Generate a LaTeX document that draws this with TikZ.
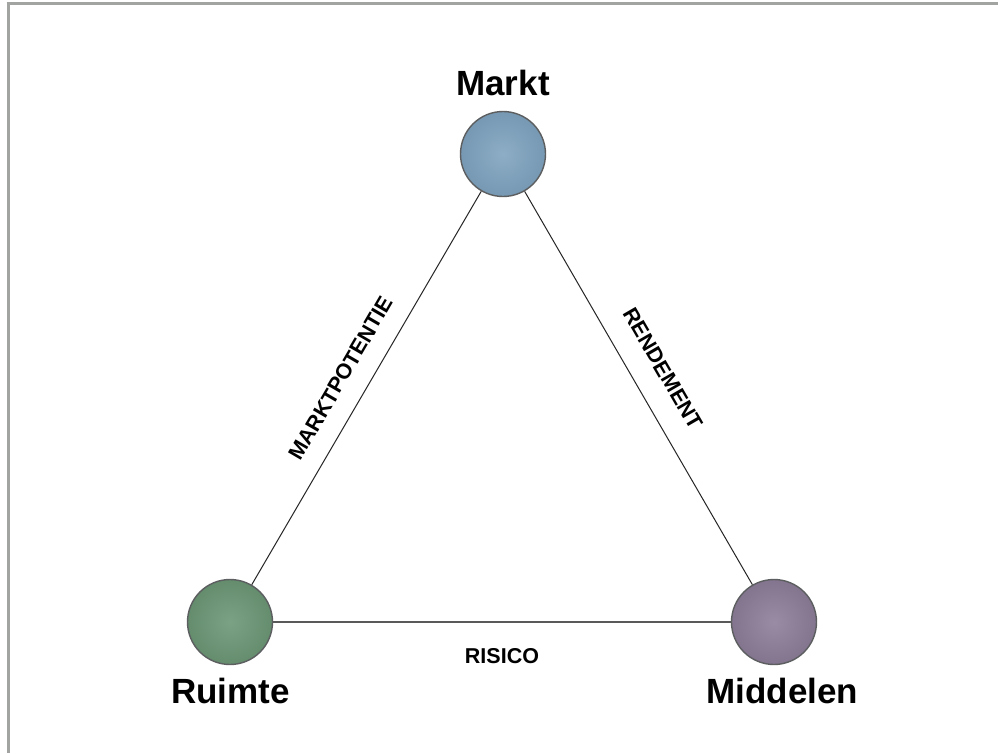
\documentclass[tikz,border=0pt]{standalone}
\usepackage{fontspec}
\setmainfont{Liberation Sans}
\definecolor{frameg}{HTML}{A2A4A2}
\definecolor{ballblue}{HTML}{7EA2BE}
\definecolor{ballgreen}{HTML}{6A9574}
\definecolor{ballpurple}{HTML}{8C7C98}
\definecolor{balledge}{HTML}{5C5E60}
\tikzset{
  ball/.style={circle, minimum size=85pt, inner sep=0pt, draw=balledge, line width=1.4pt, shading=radial},
  bigtext/.style={font=\fontsize{35}{40}\selectfont\bfseries, inner sep=0pt, anchor=base},
  edgetext/.style={font=\fontsize{21.5}{24}\selectfont\bfseries, inner sep=0pt},
  edgeline/.style={line width=1pt, draw=black!85}
}
\begin{document}
\begin{tikzpicture}[x=1pt,y=-1pt]
\useasboundingbox (0,0) rectangle (998,753);
\fill[white] (0,0) rectangle (998,753);
% frame
\draw[frameg, line width=3pt] (6.5,3) -- (998,3);
\draw[frameg, line width=3pt] (8,3) -- (8,753);
% balls
\node[ball, inner color=ballblue!88!white, outer color=ballblue!94!black] (m) at (503,154) {};
\node[ball, inner color=ballgreen!88!white, outer color=ballgreen!94!black] (r) at (230,622) {};
\node[ball, inner color=ballpurple!88!white, outer color=ballpurple!94!black] (d) at (774,622) {};
% titles
\node[bigtext] (tm) at (503,95) {Markt};
\node[bigtext] (tr) at (230.5,703) {Ruimte};
\node[bigtext] (td) at (782.5,703) {Middelen};
% connectors
\draw[edgeline] (r) -- node[edgetext, sloped, above=19pt, pos=0.49] (lmp) {MARKTPOTENTIE} (m);
\draw[edgeline] (m) -- node[edgetext, sloped, above=23pt, pos=0.49] (lrd) {RENDEMENT} (d);
\draw[edgeline, draw=black!65, line width=1.4pt] (r) -- node[edgetext, below=26pt] (lrs) {RISICO} (d);
\end{tikzpicture}
\end{document}
